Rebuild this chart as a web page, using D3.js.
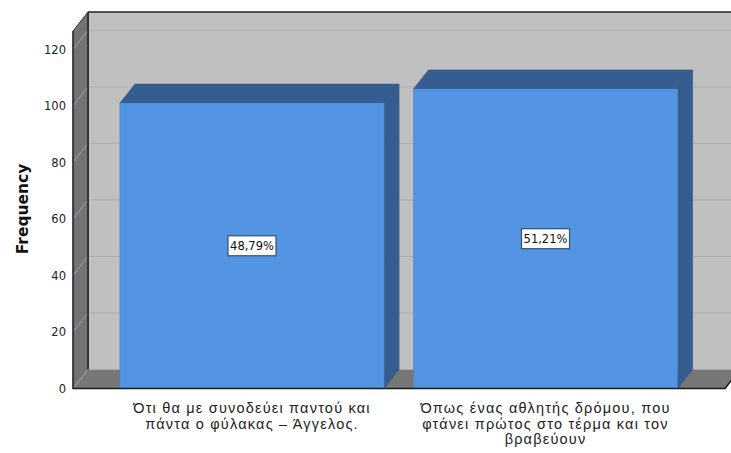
<!DOCTYPE html>
<style>
  body { margin: 0; background: #fff; }
  svg { font-family: "DejaVu Sans", Arial, sans-serif; }
</style>
<svg width="731" height="453"></svg>
<script src="https://d3js.org/d3.v7.min.js"></script>
<script>

  var categories = [
    ["Ότι θα με συνοδεύει παντού και", "πάντα ο φύλακας – Άγγελος."],
    ["Όπως ένας αθλητής δρόμου, που", "φτάνει πρώτος στο τέρμα και τον", "βραβεύουν"]
  ];
  var frequencies = [101, 106];
  var percents = ["48,79%", "51,21%"];
  var yTicks = [0, 20, 40, 60, 80, 100, 120];

  var svg = d3.select("svg");

  // depth offset of the 3D box
  var dx = 15, dy = -19;
  var x0 = 73, x1 = 725;

  var y = d3.scaleLinear().domain([0, 126.5]).range([388.5, 31]);
  var x = d3.scaleBand()
    .domain(d3.range(categories.length))
    .range([105.25, 692.25])
    .paddingInner(0.1)
    .paddingOuter(0.05);

  function poly(pts) { return "M" + pts.map(function (p) { return p.join(","); }).join("L") + "Z"; }

  var yBase = y(0), yTop = y.range()[1];

  // back wall
  svg.append("rect")
    .attr("x", x0 + dx).attr("y", yTop + dy)
    .attr("width", 800).attr("height", yBase - yTop)
    .attr("fill", "#c0c0c0");

  // side wall
  svg.append("path")
    .attr("d", poly([[x0, yTop], [x0 + dx, yTop + dy], [x0 + dx, yBase + dy], [x0, yBase]]))
    .attr("fill", "#737373");

  // floor
  svg.append("path")
    .attr("d", poly([[x0, yBase], [x0 + dx, yBase + dy], [x1 + dx, yBase + dy], [x1, yBase]]))
    .attr("fill", "#777777");

  // gridlines on back wall and side wall
  svg.append("g").selectAll("line")
    .data(yTicks.filter(function (d) { return d > 0; }))
    .enter().append("line")
    .attr("x1", x0 + dx).attr("x2", 800)
    .attr("y1", function (d) { return y(d) + dy; })
    .attr("y2", function (d) { return y(d) + dy; })
    .attr("stroke", "#adadad").attr("stroke-width", 1);

  svg.append("g").selectAll("line")
    .data(yTicks)
    .enter().append("line")
    .attr("x1", x0).attr("x2", x0 + dx)
    .attr("y1", function (d) { return y(d); })
    .attr("y2", function (d) { return y(d) + dy; })
    .attr("stroke", "#a3a3a3").attr("stroke-width", 1);

  // back-left edge
  svg.append("line")
    .attr("x1", x0 + dx).attr("x2", x0 + dx)
    .attr("y1", yTop + dy).attr("y2", yBase + dy)
    .attr("stroke", "#333").attr("stroke-width", 2);

  // top edge of back wall
  svg.append("line")
    .attr("x1", x0 + dx).attr("x2", 800)
    .attr("y1", yTop + dy).attr("y2", yTop + dy)
    .attr("stroke", "#222").attr("stroke-width", 1.5);

  svg.append("line")
    .attr("x1", x0).attr("x2", x0 + dx)
    .attr("y1", yTop).attr("y2", yTop + dy)
    .attr("stroke", "#333").attr("stroke-width", 1);

  // bars
  var bar = svg.append("g").selectAll("g")
    .data(frequencies)
    .enter().append("g");

  bar.append("path")
    .attr("d", function (d, i) {
      var l = x(i), r = x(i) + x.bandwidth(), t = y(d);
      return poly([[l, t], [l + dx, t + dy], [r + dx, t + dy], [r, t]]);
    })
    .attr("fill", "#355d8f").attr("stroke", "#2c4f7c").attr("stroke-width", 0.5);

  bar.append("path")
    .attr("d", function (d, i) {
      var r = x(i) + x.bandwidth(), t = y(d);
      return poly([[r, t], [r + dx, t + dy], [r + dx, yBase + dy], [r, yBase]]);
    })
    .attr("fill", "#355d8f").attr("stroke", "#2c4f7c").attr("stroke-width", 0.5);

  bar.append("rect")
    .attr("x", function (d, i) { return x(i); })
    .attr("y", function (d) { return y(d); })
    .attr("width", x.bandwidth())
    .attr("height", function (d) { return yBase - y(d); })
    .attr("fill", "#5495e3").attr("stroke", "#4a7fc0").attr("stroke-width", 0.5);

  // percentage labels
  var lab = svg.append("g").selectAll("g")
    .data(frequencies)
    .enter().append("g")
    .attr("transform", function (d, i) {
      return "translate(" + (x(i) + x.bandwidth() / 2) + "," + ((y(d) + yBase) / 2) + ")";
    });

  lab.append("rect")
    .attr("x", -24).attr("y", -10).attr("width", 48).attr("height", 20)
    .attr("fill", "#fff").attr("stroke", "#2f4f73").attr("stroke-width", 1.2);

  lab.append("text")
    .attr("text-anchor", "middle").attr("dy", "0.36em")
    .attr("font-size", 11.5).attr("fill", "#111")
    .text(function (d, i) { return percents[i]; });

  // baseline and left front edge
  svg.append("path")
    .attr("d", "M" + x0 + "," + yTop + "L" + x0 + "," + yBase + "L" + x1 + "," + yBase + "L" + (x1 + dx) + "," + (yBase + dy))
    .attr("fill", "none").attr("stroke", "#1a1a1a").attr("stroke-width", 1.5);

  // y axis labels
  var yAxis = svg.append("g")
    .attr("transform", "translate(" + x0 + ",0)")
    .call(d3.axisLeft(y).tickValues(yTicks).tickSize(0).tickPadding(7));
  yAxis.select(".domain").remove();
  yAxis.selectAll("text")
    .attr("font-family", "'DejaVu Sans', Arial, sans-serif")
    .attr("font-size", 11.5).attr("fill", "#222");

  svg.append("text")
    .attr("transform", "translate(28,209) rotate(-90)")
    .attr("text-anchor", "middle")
    .attr("font-size", 15.5).attr("font-weight", "bold").attr("fill", "#111")
    .text("Frequency");

  // category labels
  svg.append("g").selectAll("text")
    .data(categories)
    .enter().append("text")
    .attr("text-anchor", "middle")
    .attr("font-family", "'Liberation Sans', Arial, sans-serif")
    .attr("font-size", 14.5).attr("letter-spacing", 1.2).attr("fill", "#222")
    .attr("transform", function (d, i) { return "translate(" + (x(i) + x.bandwidth() / 2) + ",413)"; })
    .selectAll("tspan")
    .data(function (d) { return d; })
    .enter().append("tspan")
    .attr("x", 0)
    .attr("y", function (d, j) { return j * 15.5; })
    .text(function (d) { return d; });

</script>
